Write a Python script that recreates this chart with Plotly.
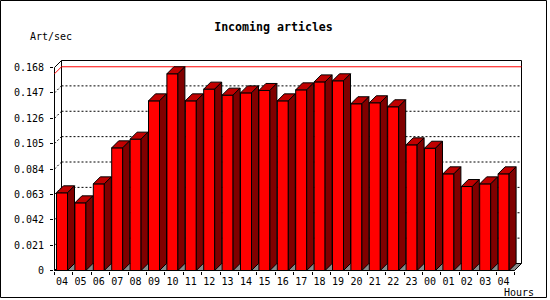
import plotly.graph_objects as go

# ---------------- data ----------------
hours = ["04", "05", "06", "07", "08", "09", "10", "11", "12", "13", "14", "15",
         "16", "17", "18", "19", "20", "21", "22", "23", "00", "01", "02", "03", "04"]
art_per_sec = [0.0643, 0.0560, 0.0717, 0.1015, 0.1087, 0.1404, 0.1628, 0.1404,
               0.1501, 0.1451, 0.1470, 0.1490, 0.1404, 0.1495, 0.1561, 0.1570,
               0.1380, 0.1388, 0.1355, 0.1040, 0.1012, 0.0800, 0.0695, 0.0717, 0.0800]
y_tick_vals = [0, 0.021, 0.042, 0.063, 0.084, 0.105, 0.126, 0.147, 0.168]
y_tick_text = ["0", "0.021", "0.042", "0.063", "0.084", "0.105", "0.126", "0.147", "0.168"]

# ---------------- geometry / style ----------------
W, H = 550, 300
CAT_PX = 18.4                  # pixels per category
K = 203 / 0.168                # pixels per y unit
ORIG_X, ORIG_Y = 54.5, 270.5   # pixel position of (0, 0)
PL, PR, PT, PB = 54, 522, 60, 271   # plot area pixel box
DEPTH_PX = 7
dx = DEPTH_PX / CAT_PX
dy = DEPTH_PX / K
off = 2 / CAT_PX               # front face offset within category
fw = 11 / CAT_PX               # front face width
n = len(art_per_sec)
ymax_axis = y_tick_vals[-1]

FRONT = "#ff0000"
SIDE = "#800000"
TOP = "#c00000"
FLOOR = "#8a8a8a"
MONO = "DejaVu Sans Mono"

x_range = [(PL - ORIG_X) / CAT_PX, (PR - ORIG_X) / CAT_PX]
y_range = [(ORIG_Y - PB) / K, (ORIG_Y - PT) / K]

def paper_x(px):
    return (px - PL) / (PR - PL)

def paper_y(py):
    return (PB - py) / (PB - PT)

fig = go.Figure()

# front faces as real bars
centers = [i + off + fw / 2 for i in range(n)]
fig.add_trace(go.Bar(x=centers, y=art_per_sec, width=fw, base=0,
                     marker=dict(color=FRONT, line=dict(color="black", width=1)),
                     hoverinfo="skip", showlegend=False))

# top and side faces (3D extrusion) computed from values
tx, ty, sx, sy = [], [], [], []
for i, v in enumerate(art_per_sec):
    xl = i + off
    xr = xl + fw
    tx += [xl, xr, xr + dx, xl + dx, xl, None]
    ty += [v, v, v + dy, v + dy, v, None]
    sx += [xr, xr, xr + dx, xr + dx, xr, None]
    sy += [0, v, v + dy, dy, 0, None]
fig.add_trace(go.Scatter(x=tx, y=ty, mode="lines", fill="toself", fillcolor=TOP,
                         line=dict(color="black", width=1), hoverinfo="skip", showlegend=False))
fig.add_trace(go.Scatter(x=sx, y=sy, mode="lines", fill="toself", fillcolor=SIDE,
                         line=dict(color="black", width=1), hoverinfo="skip", showlegend=False))

shapes = []
# floor
shapes.append(dict(type="path", layer="below", xref="x", yref="y",
                   path=f"M 0 0 L {n} 0 L {n + dx} {dy} L {dx} {dy} Z",
                   fillcolor=FLOOR, line=dict(color="black", width=1)))
# back wall frame
shapes.append(dict(type="path", layer="below", xref="x", yref="y",
                   path=f"M {dx} {dy} L {dx} {ymax_axis + dy} L {n + dx} {ymax_axis + dy} L {n + dx} {dy}",
                   line=dict(color="black", width=1)))
# front y axis + left wall top edge
shapes.append(dict(type="path", layer="below", xref="x", yref="y",
                   path=f"M 0 0 L 0 {ymax_axis} L {dx} {ymax_axis + dy}",
                   line=dict(color="black", width=1)))
# dotted grid lines on back wall and left wall
for v in y_tick_vals[1:-1]:
    shapes.append(dict(type="line", layer="below", xref="x", yref="y",
                       x0=dx, x1=n + dx, y0=v + dy, y1=v + dy,
                       line=dict(color="black", width=1, dash="2px,2px")))
    shapes.append(dict(type="line", layer="below", xref="x", yref="y",
                       x0=0, x1=dx, y0=v, y1=v + dy,
                       line=dict(color="black", width=1, dash="2px,2px")))
# maximum line
vmax = max(art_per_sec)
shapes.append(dict(type="path", layer="below", xref="x", yref="y",
                   path=f"M 0 {vmax} L {dx} {vmax + dy} L {n + dx} {vmax + dy}",
                   line=dict(color="red", width=1)))
# front x axis line
shapes.append(dict(type="line", layer="above", xref="x", yref="y",
                   x0=0, x1=n, y0=0, y1=0, line=dict(color="black", width=1)))
# outer border
shapes.append(dict(type="rect", xref="paper", yref="paper",
                   x0=paper_x(0.5), x1=paper_x(546.5), y0=paper_y(297.5), y1=paper_y(0.5),
                   line=dict(color="black", width=1)))

fig.update_layout(
    width=W, height=H,
    margin=dict(l=PL, r=W - PR, t=PT, b=H - PB, pad=0),
    paper_bgcolor="white", plot_bgcolor="white",
    showlegend=False, shapes=shapes, barmode="overlay",
    title=dict(text="Incoming articles", x=273.5 / W, y=1 - 26.7 / H,
               xref="container", yref="container", xanchor="center", yanchor="middle",
               font=dict(family=MONO, size=11.6, color="black", weight="bold")),
    xaxis=dict(range=x_range, showgrid=False, zeroline=False, showline=False,
               tickmode="array", tickvals=centers, ticktext=hours, ticks="",
               ticklabelstandoff=3,
               tickfont=dict(family=MONO, size=10, color="black"),
               minor=dict(tickmode="array", tickvals=list(range(n + 1)), ticks="outside",
                          ticklen=3, tickcolor="black", tickwidth=1, showgrid=False),
               fixedrange=True),
    yaxis=dict(range=y_range, showgrid=False, zeroline=False, showline=False,
               tickmode="array", tickvals=y_tick_vals, ticktext=y_tick_text,
               ticks="outside", ticklen=3, tickcolor="black", tickwidth=1,
               ticklabelstandoff=4,
               tickfont=dict(family=MONO, size=10, color="black"),
               fixedrange=True),
    annotations=[
        dict(text="Art/sec", xref="paper", yref="paper", x=paper_x(50.5), y=paper_y(36.7),
             xanchor="center", yanchor="middle", showarrow=False,
             font=dict(family=MONO, size=10, color="black")),
        dict(text="Hours", xref="paper", yref="paper", x=paper_x(519), y=paper_y(292.7),
             xanchor="center", yanchor="middle", showarrow=False,
             font=dict(family=MONO, size=10, color="black")),
    ],
)

fig.write_html("out.html")
